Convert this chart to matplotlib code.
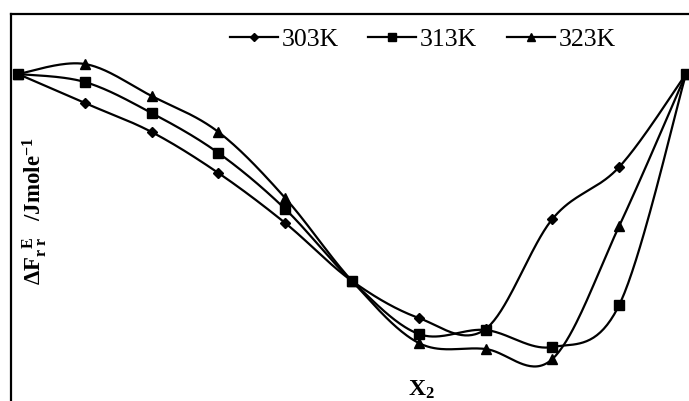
import numpy as np
import matplotlib
matplotlib.use("Agg")
import matplotlib.pyplot as plt
from matplotlib.lines import Line2D

plt.rcParams['mathtext.fontset'] = 'custom'
plt.rcParams['mathtext.rm'] = 'Liberation Serif'
plt.rcParams['mathtext.it'] = 'Liberation Serif:italic'
plt.rcParams['mathtext.bf'] = 'Liberation Serif:bold'

# ---- data ----
x2 = [0.0, 0.1, 0.2, 0.3, 0.4, 0.5, 0.6, 0.7, 0.8, 0.9, 1.0]
f_303 = [0, -29, -58, -99, -149, -207, -244, -255, -145, -93, 0]
f_313 = [0, -8, -39, -79, -135, -207, -260, -256, -273, -231, 0]
f_323 = [0, 10, -22, -58, -124, -207, -269, -275, -285, -152, 0]
series_labels = ['303K', '313K', '323K']
markers = ['D', 's', '^']
msizes = [5.0, 7.5, 7.0]

W, H = 689, 401
fig = plt.figure(figsize=(W / 100, H / 100), dpi=100)

def fx(px):
    return px / W

def fy(py):
    return 1 - py / H

ax = fig.add_axes([0, 0, 1, 1])
ax.axis('off')
ax.set_xlim(-18 / 668, 1 + 3 / 668)
ax.set_ylim(74 - 401, 74)


def smooth(xs, ys, n=40):
    P = np.column_stack([xs, ys]).astype(float)
    out = []
    m = len(P)
    for i in range(m - 1):
        p0 = P[i - 1] if i > 0 else P[i]
        p3 = P[i + 2] if i + 2 < m else P[i + 1]
        c1 = P[i] + (P[i + 1] - p0) / 6
        c2 = P[i + 1] - (p3 - P[i]) / 6
        t = np.linspace(0, 1, n)[:, None]
        seg = ((1 - t) ** 3) * P[i] + 3 * ((1 - t) ** 2) * t * c1 + 3 * (1 - t) * t ** 2 * c2 + t ** 3 * P[i + 1]
        out.append(seg if i == 0 else seg[1:])
    out = np.vstack(out)
    return out[:, 0], out[:, 1]

for ys, mk, ms in zip([f_303, f_313, f_323], markers, msizes):
    sx, sy = smooth(x2, ys)
    ax.plot(sx, sy, color='black', lw=1.6, solid_capstyle='round', zorder=2)
    ax.plot(x2, ys, linestyle='none', marker=mk, markersize=ms, color='black', zorder=3, clip_on=True)

# frame (left and top borders)
fig.add_artist(Line2D([fx(11), fx(11)], [fy(14), 0], transform=fig.transFigure, color='black', lw=1.6))
fig.add_artist(Line2D([fx(11), 1], [fy(14), fy(14)], transform=fig.transFigure, color='black', lw=1.6))

# legend (manual)
leg_y = 37
line_starts = [230, 368, 507]
for lx, lab, mk, ms in zip(line_starts, series_labels, markers, msizes):
    fig.add_artist(Line2D([fx(lx), fx(lx + 48)], [fy(leg_y), fy(leg_y)], transform=fig.transFigure,
                          color='black', lw=1.6))
    fig.add_artist(Line2D([fx(lx + 24)], [fy(leg_y)], transform=fig.transFigure, marker=mk,
                          markersize=ms * 0.85, color='black', linestyle='none'))
    fig.text(fx(lx + 52), fy(leg_y), lab, fontfamily='Liberation Serif', fontsize=18.5,
             va='center_baseline', ha='left')

# axis labels
fig.text(fx(35), fy(211),
         r'$\mathbf{\Delta F}_{\mathbf{r\ r}}^{\ \ \mathbf{E}}$   /Jmole$^{\mathbf{-1}}$',
         rotation=90, fontfamily='Liberation Serif', fontweight='bold', fontsize=16.5,
         ha='center', va='center')
fig.text(fx(421), fy(396), r'$\mathbf{X_2}$', fontfamily='Liberation Serif', fontweight='bold',
         fontsize=17, ha='center', va='baseline')

fig.savefig('out.png', dpi=100)
